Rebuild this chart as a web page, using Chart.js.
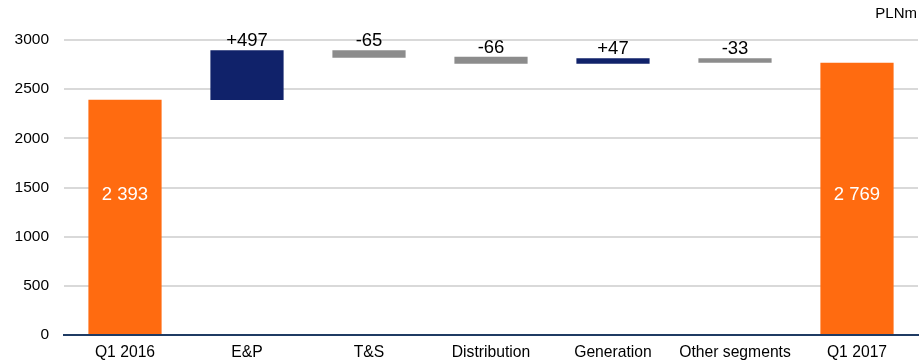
<!DOCTYPE html>
<html><head><meta charset="utf-8">
<script src="https://cdn.jsdelivr.net/npm/chart.js@4/dist/chart.umd.min.js"></script>
<style>html,body{margin:0;padding:0;background:#fff}#wrap{position:relative;width:919px;height:362px}</style>
</head><body><div id="wrap"><canvas id="c" width="919" height="362"></canvas></div>
<script>
const categories = ['Q1 2016','E&P','T&S','Distribution','Generation','Other segments','Q1 2017'];
const barLow  = [0, 2390, 2820, 2758, 2758, 2768, 0];
const barHigh = [2393, 2895, 2895, 2830, 2815, 2815, 2769];
const valueLabels = ['2 393','+497','-65','-66','+47','-33','2 769'];
const barKinds = ['total','up','down','down','up','down','total'];
const yTicks = [0,500,1000,1500,2000,2500,3000];
const unitLabel = 'PLNm';

const kindColor = {total:'#FF6B10', up:'#10226A', down:'#8C8C8C'};
const data = categories.map((c,i)=>[barLow[i], barHigh[i]]);
const FONT = '"Liberation Sans", Arial, sans-serif';

const labelPlugin = {
  id:'labels',
  afterDatasetsDraw(chart){
    const ctx = chart.ctx;
    const meta = chart.getDatasetMeta(0);
    const ys = chart.scales.y;
    ctx.save();
    ctx.font = '18.5px ' + FONT;
    ctx.textAlign = 'center';
    meta.data.forEach((el,i)=>{
      const top = Math.min(el.y, el.base);
      if (barKinds[i]==='total'){
        ctx.fillStyle = '#ffffff';
        ctx.textBaseline = 'middle';
        ctx.fillText(valueLabels[i], el.x, ys.getPixelForValue(1420));
      } else {
        ctx.fillStyle = '#000000';
        ctx.textBaseline = 'alphabetic';
        ctx.fillText(valueLabels[i], el.x, top - 4);
      }
    });
    ctx.font = '15px ' + FONT;
    ctx.fillStyle = '#000';
    ctx.textAlign = 'right';
    ctx.textBaseline = 'middle';
    ctx.fillText(unitLabel, chart.width - 2, 14);
    ctx.restore();
  }
};

new Chart(document.getElementById('c'), {
  type:'bar',
  data:{labels:categories, datasets:[{data:data, backgroundColor:barKinds.map(k=>kindColor[k]), borderWidth:0, barPercentage:0.6, categoryPercentage:1.0}]},
  options:{
    responsive:false, animation:false,
    layout:{padding:{top:40,right:1,left:0,bottom:0}},
    plugins:{legend:{display:false}, tooltip:{enabled:false}},
    scales:{
      x:{
        grid:{display:false, drawTicks:false},
        border:{color:'#1F3B63', width:2},
        ticks:{color:'#000', font:{family:FONT, size:15.7}, padding:8, maxRotation:0, autoSkip:false},
        afterFit(s){ s.height = 27; }
      },
      y:{
        min:0, max:3000,
        afterBuildTicks(s){ s.ticks = yTicks.map(v=>({value:v})); },
        grid:{color:'#D9D9D9', lineWidth:2, drawTicks:false},
        border:{display:false},
        ticks:{color:'#000', font:{family:FONT, size:15.5}, padding:15, callback:(v)=>String(v)},
        afterFit(s){ s.width = 64; }
      }
    }
  },
  plugins:[labelPlugin]
});
</script></body></html>
